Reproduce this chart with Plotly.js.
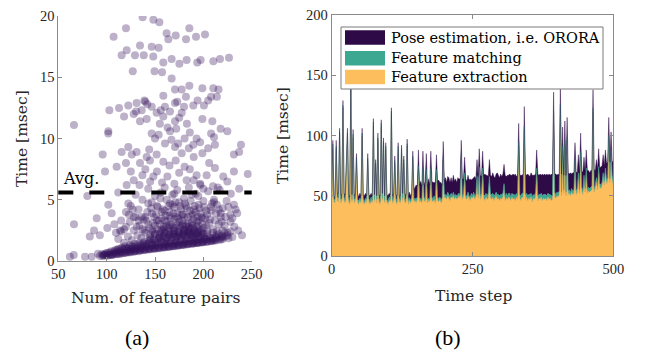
<!DOCTYPE html>
<html><head><meta charset="utf-8">
<script src="https://cdn.plot.ly/plotly-3.0.1.min.js"></script>
<style>html,body{margin:0;padding:0;background:#fff}#chart{width:646px;height:352px}</style>
</head><body><div id="chart"></div>
<script>
// ---------- (a) scatter: [num. of feature pairs, time msec] ----------
const sparsePoints = [[137.2,19.9],[148.3,19.7],[154.5,19.5],[120,19.0],[185.5,19.0],[162,18.6],[171.4,18.4],[201.7,18.5],[163.8,18.1],[182.1,18.1],[192.4,18.3],[107.2,18.3],[120.7,17.2],[134.5,17.6],[146.6,17.5],[153.8,17.4],[115.5,16.8],[129.3,16.8],[138.4,16.8],[148.2,16.7],[167.2,16.5],[182.7,16.4],[197.2,16.4],[210.3,16.3],[217.2,16.5],[226.5,16.6],[158.6,16.2],[175.2,16.1],[193.7,16.2],[127,15.5],[149.5,15.5],[157.3,15.4],[167.2,14.9],[210.3,14.1],[199,14.1],[185.5,14.3],[177.6,14.0],[170.7,14.0],[215.7,14.0],[158.6,13.5],[182,13.4],[208,13.4],[214,13.4],[131,12.9],[139,13.1],[170.7,12.9],[194,13.1],[200.6,12.7],[189.6,12.7],[102.8,12.3],[112.8,12.5],[122.4,12.7],[130.4,12.2],[136.2,12.3],[146.6,12.6],[151.7,12.1],[160.3,12.6],[165.5,12.2],[177.6,12.1],[141.4,11.6],[134.5,11.4],[158.6,11.8],[170.7,11.4],[199,11.6],[209.3,11.4],[217.9,10.8],[224.8,10.6],[101.7,10.6],[146.6,10.4],[153.8,10.3],[165.5,10.6],[180.6,10.0],[193,10.0],[208,10.4],[211,10.1],[160.3,9.6],[170.7,9.3],[189.6,9.5],[196.6,9.7],[212,9.5],[238.9,9.5],[237,8.9],[231.6,8.7],[95.9,8.7],[115.5,8.9],[122.4,9.3],[126,8.7],[131,8.9],[141.4,8.5],[151.7,8.7],[177.6,8.8],[199,8.8],[110.3,7.7],[120,8.0],[134.5,8.0],[144.8,8.2],[158.6,8.1],[171.4,8.2],[180.6,7.7],[206,8.0],[246,7.1],[231.6,7.3],[98.3,7.3],[128,6.6],[137,7.0],[148.3,6.9],[162.8,6.9],[182.7,6.6],[203.4,7.0],[224.8,6.5],[220.6,6.9],[157.3,6.4],[196.6,6.3],[120.7,6.2],[237,5.9],[228.4,5.5],[80,5.3],[194.8,5.3],[155.5,5.1],[122.4,4.7],[101.7,4.6],[146.6,4.8],[165.5,4.7],[211,4.8],[231.6,4.6],[105.2,3.9],[233.4,4.2],[218,3.9],[66.2,3.0],[89.7,3.5],[66.2,11.1],[101.7,10.4],[87,2.5],[82.6,2.0],[93,2.1],[100.7,2.7],[109.6,2.3],[113.8,2.5],[62,0.35],[66,0.5],[77.6,0.35],[84.5,0.35],[91,0.6],[97,0.55],
[142,12.8],[155,11.2],[163,10.9],[172,10.8],[175,11.7],[183,11.2],[186,10.5],[150,10.0],[144,9.1],[167,9.9],[174,9.6],[185,9.2],[190,8.5],[205,9.2],[140,13.0],[128,12.0],[118,11.8],[156,12.3],[180,12.6],[173,13.0],[205,13.1],
[140,7.5],[152,7.3],[165,7.8],[175,7.2],[186,7.5],[193,7.0],[212,7.6],[215,6.0],[200,5.9],[188,5.4],[170,5.5],[143,5.9],[130,5.4],[112,5.6],[125,7.3]];

const midPoints = [[108,3.0],[115,3.3],[120,4.0],[125,4.5],[128,3.6],[133,4.2],[137,5.0],[140,3.6],[143,4.7],[147,3.9],[150,5.3],[152,4.5],[156,5.6],[158,4.2],[162,5.0],[165,4.0],[168,5.4],[170,4.4],[173,5.8],[175,4.8],[178,3.8],[180,5.1],[182,4.5],[185,6.0],[187,4.9],[190,4.2],[192,5.5],[195,4.6],[197,6.2],[200,4.9],[203,4.1],[205,5.7],[208,4.4],[211,5.0],[214,4.6],[217,5.8],[220,4.3],[224,4.9],[228,3.8],[134,6.2],[145,6.5],[160,6.0],[170,6.3],[190,6.6],[210,6.1],
[112,1.8],[115,2.4],[118,1.5],[120,2.8],[122,2.0],[124,3.2],[126,1.7],[128,2.5],[130,3.6],[132,2.1],[134,2.9],[136,1.9],[138,3.4],[140,2.3],[142,4.0],[144,2.7],[146,1.8],[148,3.1],[150,2.2],[151,3.8],[152,2.6],[153,4.4],[154,1.9],[155,3.0],[156,2.4],[157,3.5],[158,2.0],[159,2.8],[160,4.1],[161,2.3],[162,3.2],[163,1.9],[164,2.7],[165,3.7],[166,2.2],[167,3.0],[168,4.6],[169,2.5],[170,3.4],[171,2.0],[172,2.9],[173,3.9],[174,2.4],[175,3.2],[176,2.7],[177,4.2],[178,2.1],[179,3.0],[180,3.6],[181,2.5],[182,2.8],[183,4.3],[184,2.3],[185,3.1],[186,2.6],[187,3.7],[188,2.2],[189,2.9],[190,3.4],[191,2.5],[192,4.0],[193,2.8],[194,2.3],[195,3.3],[196,2.6],[197,3.9],[198,2.4],[199,3.0],[200,2.7],[202,3.5],[204,2.5],[206,3.1],[208,4.1],[210,2.6],[212,3.3],[214,2.4],[216,3.0],[218,3.6],[220,2.5],[222,2.9],[225,2.3],[228,3.2],[232,2.8],[236,2.5],[240,2.1],
[145,2.1],[150,2.9],[155,2.2],[160,2.6],[165,2.4],[170,2.2],[175,2.1],[180,2.3],[185,2.1],[190,2.0],[170,2.7],[175,2.9],[180,2.6],[165,2.9],[160,3.3],[172,3.6],[178,3.3],[183,3.0],[188,2.7],[193,3.2],[198,3.6],[203,2.9],[147,2.5],[152,3.3],[157,2.6],[162,2.9],
[118,2.6],[123,3.8],[127,4.2],[131,2.8],[136,3.6],[139,2.5],[141,3.3],[146,4.3],[149,3.6],[154,3.3],[157,4.0],[161,3.7],[164,4.5],[166,3.5],[169,3.9],[171,4.8],[174,3.5],[176,4.5],[179,3.8],[181,4.7],[184,3.6],[186,4.1],[189,3.8],[191,4.5],[194,3.6],[196,4.3],[199,3.5],[201,4.4],[204,3.8],[207,3.4],[209,4.7],[213,3.9],[216,4.2],[219,3.2],[223,3.6],[226,4.4],[230,3.5],[235,3.9],[133,3.3],[137,2.6],[143,3.0],[148,2.4],[185,2.8],[195,2.9]];

const densePoints = [[96,0.4],[98,0.5],[99,0.6],[101,0.45],[102,0.7],[104,0.55],[105,0.8],[106,0.5],[108,0.65],[109,0.9],[110,0.6],[111,0.75],[112,1.0],[113,0.6],[114,0.8],[115,0.7],[116,1.1],[117,0.65],[118,0.9],[119,1.2],[120,0.7],[121,0.85],[122,1.0],[123,0.75],[124,1.3],[125,0.8],[126,0.95],[127,1.1],[128,0.8],[129,1.4],[130,0.85],[131,1.0],[132,1.2],[133,0.9],[134,1.5],[135,0.9],[136,1.1],[137,1.3],[138,0.95],[139,1.6],[140,0.95],[141,1.15],[142,1.4],[143,1.0],[144,1.7],[145,1.0],[146,1.2],[147,1.5],[148,1.05],[149,1.8],[150,1.05],[151,1.3],[152,1.6],[153,1.1],[154,1.9],[155,1.1],[156,1.35],[157,1.6],[158,1.15],[159,2.0],[160,1.15],[161,1.4],[162,1.7],[163,1.2],[164,2.1],[165,1.2],[166,1.45],[167,1.8],[168,1.25],[169,2.2],[170,1.25],[171,1.5],[172,1.9],[173,1.3],[174,2.3],[175,1.3],[176,1.55],[177,1.9],[178,1.35],[179,2.2],[180,1.35],[181,1.6],[182,2.0],[183,1.4],[184,2.4],[185,1.4],[186,1.65],[187,2.0],[188,1.45],[189,2.3],[190,1.45],[191,1.7],[192,2.1],[193,1.5],[194,2.2],[195,1.5],[196,1.75],[197,2.0],[198,1.55],[199,2.3],[200,1.55],[202,1.8],[204,1.6],[206,2.0],[208,1.65],[210,1.9],[212,1.7],[214,2.1],[216,1.75],[218,1.9],[220,1.8],[223,2.0],[226,1.85],[230,1.95],
[130,0.8],[135,0.85],[140,0.9],[145,0.95],[150,1.0],[155,1.05],[160,1.1],[165,1.15],[170,1.2],[175,1.27],[180,1.32],[185,1.38],[190,1.43],[195,1.48],[200,1.54],[205,1.6],[210,1.65],[100,0.45],[105,0.5],[110,0.56],[115,0.6],[120,0.67],[125,0.72],[93,0.4],[97,0.45],[103,0.5],[107,0.55],[112,0.6],[118,0.65],[123,0.7],[128,0.75],[133,0.8],[138,0.88],[143,0.93],[148,1.0],[153,1.05],[158,1.1],[163,1.15],[168,1.2],[173,1.25],[178,1.3],[183,1.35],[188,1.4],[193,1.46],[198,1.52],[203,1.57],[208,1.62],[213,1.68],[218,1.73],
[95,0.55],[100,0.65],[104,0.7],[108,0.8],[111,0.9],[114,0.95],[117,1.0],[120,1.05],[123,1.1],[126,1.2],[129,1.15],[132,1.35],[135,1.25],[138,1.45],[141,1.35],[144,1.5],[147,1.3],[150,1.6],[153,1.45],[156,1.75],[159,1.5],[162,1.9],[165,1.6],[168,1.95],[171,1.7],[174,2.0],[177,1.75],[180,2.1],[183,1.85],[186,2.2],[189,1.9],[192,2.3],[195,1.95],[198,2.1],[201,1.9],[204,2.2],[207,1.85],[210,2.3],[213,2.0],[216,2.2],[219,2.05],[222,2.3],[225,2.1],[228,2.4],[145,1.9],[150,2.2],[155,2.0],[160,2.3],[165,2.1],[170,2.4],[175,2.3],[180,2.5],[185,2.5],[190,2.6],[195,2.4],[200,2.2],[158,2.5],[168,2.8],[178,2.9],[188,3.1],[163,1.45],[173,1.55],[183,1.65],[193,1.75],[203,1.8],[213,1.85],[140,1.2],[135,1.05],[130,1.0],[125,0.95],[150,1.3],[160,1.35],[170,1.4],[180,1.5],[190,1.6],[200,1.7],[210,1.75],[220,1.95]];

const avgTime = 5.6;

// ---------- (b) stacked time per step (every 2nd time step, 0..500) ----------
const extraction = [
46,90,45,44,89,46,45,101,44,46,
123,46,44,80,100,45,43,138,45,98,
44,46,79,45,43,46,44,100,45,43,
46,44,79,45,43,46,44,108,45,74,
44,96,45,43,107,46,92,44,88,45,
43,46,45,117,44,46,77,45,43,88,
45,44,86,46,77,44,45,91,43,46,
44,46,81,45,46,44,47,73,45,46,
44,71,46,45,70,44,46,45,71,46,
45,47,44,70,46,45,47,44,46,80,
48,49,47,50,48,46,49,48,50,47,
49,47,48,50,48,81,47,49,66,48,
47,50,48,46,49,48,50,47,49,64,
48,70,47,49,69,48,46,49,47,48,
62,48,47,49,46,48,50,47,48,46,
48,47,49,56,46,48,47,49,48,46,
49,47,48,46,49,47,91,48,46,49,
48,105,47,49,46,48,47,49,45,48,
47,49,70,46,48,47,49,46,48,47,
48,46,49,47,48,46,47,117,49,48,
50,49,51,123,50,88,52,93,50,96,
51,52,50,53,51,52,77,51,53,66,
52,84,54,51,64,53,70,52,54,53,
54,55,120,53,56,62,55,71,57,56,
58,66,59,70,60,62,97,61,85,64,
58];
const matching = [
3,3,2,3,2,3,3,2,3,2,
2,3,2,3,2,3,2,3,2,3,
3,2,3,2,3,2,3,2,3,2,
2,3,2,3,2,3,2,3,2,3,
3,2,3,2,3,2,3,2,3,2,
2,3,2,3,2,3,2,3,2,3,
3,2,3,2,3,2,3,2,3,2,
2,3,2,2,2,3,2,2,3,2,
2,2,3,2,2,3,2,2,2,3,
2,3,2,2,3,2,2,3,2,2,
3,2,3,3,2,3,3,2,3,3,
2,3,3,2,3,3,2,3,3,2,
3,3,2,3,3,2,3,3,2,3,
3,4,3,3,4,3,4,3,3,4,
4,3,4,3,4,3,3,4,3,4,
3,4,3,4,3,4,3,3,4,3,
3,4,3,4,3,3,4,3,4,3,
4,3,4,3,4,3,4,3,4,3,
3,4,3,4,3,4,3,4,3,4,
3,4,3,4,3,4,3,3,4,3,
3,3,3,3,3,3,3,3,3,3,
3,3,3,3,3,3,3,3,3,3,
3,3,3,3,3,3,3,3,3,3,
3,3,3,3,3,3,3,3,3,3,
3,3,3,3,3,3,3,3,3,3,
3];
const pose = [
4,3,4,3,5,3,4,3,4,3,
4,3,5,3,4,3,4,3,4,4,
3,4,3,5,3,4,3,4,3,5,
4,3,4,3,5,3,4,3,4,3,
3,4,3,5,3,4,3,4,3,4,
5,3,4,3,4,3,4,3,5,3,
3,4,3,4,3,5,3,4,3,5,
4,3,4,8,10,12,9,13,11,14,
12,14,10,15,13,11,16,12,14,13,
14,11,15,12,13,16,12,14,11,13,
12,14,11,13,15,12,13,11,14,12,
13,11,14,12,13,12,15,12,13,14,
12,14,13,15,11,14,12,16,13,13,
15,15,17,14,14,16,18,15,17,14,
14,16,15,17,16,14,15,18,16,15,
17,15,16,16,18,14,17,15,16,18,
15,17,16,18,14,17,15,16,17,15,
16,16,17,15,18,16,15,17,18,16,
17,15,15,18,16,17,15,18,16,17,
16,18,15,17,16,18,17,16,15,17,
14,16,13,16,15,16,12,16,14,16,
15,13,16,12,15,14,14,16,13,15,
14,15,13,16,15,14,15,16,14,13,
14,13,15,16,12,15,14,15,13,15,
14,15,13,15,14,13,15,14,15,12,
16];
const timeStep = extraction.map((_, i) => i * 2);

const seriesNames = ['Feature extraction', 'Feature matching', 'Pose estimation, i.e. ORORA'];
const seriesColors = ['#fdbf5e', '#3ca892', '#2e0b47'];

// ---------- layout helpers ----------
const W = 646, H = 352;
const axisGrey = '#8a8a8a', txt = '#262626';
const serif = 'DejaVu Serif', tickSerif = 'Liberation Serif';
const px = v => v / W, py = v => 1 - v / H;

const allPts = sparsePoints.concat(midPoints, densePoints);
const traces = [{
  type: 'scatter', mode: 'markers', xaxis: 'x', yaxis: 'y',
  x: allPts.map(p => p[0]), y: allPts.map(p => p[1]),
  marker: {size: 8, color: 'rgba(52,18,92,0.33)', line: {width: 0}},
  hoverinfo: 'skip'
}];
const stacks = [extraction, matching, pose];
const lineColors = ['rgba(200,160,90,0.9)', '#3ca892', 'rgba(46,11,71,0.75)'];
stacks.forEach((vals, k) => {
  traces.push({
    type: 'scatter', mode: 'lines', xaxis: 'x2', yaxis: 'y2',
    x: timeStep, y: vals, stackgroup: 'one', name: seriesNames[k],
    line: {width: 0.6, color: lineColors[k]},
    fillcolor: seriesColors[k], hoverinfo: 'skip'
  });
});

function axisBase(extra) {
  return Object.assign({
    ticks: 'inside', ticklen: 4, tickwidth: 1, tickcolor: axisGrey,
    showline: true, linecolor: axisGrey, linewidth: 1,
    showgrid: false, zeroline: false, fixedrange: true,
    tickfont: {family: tickSerif, size: 14.5, color: txt}
  }, extra);
}

const legendRows = [37.5, 58.3, 77];
const shapes = [
  {type: 'line', xref: 'x domain', yref: 'y', x0: 0, x1: 1, y0: avgTime, y1: avgTime,
   line: {color: '#000', width: 4, dash: '15px,16px'}},
  {type: 'rect', xref: 'paper', yref: 'paper', x0: px(341), x1: px(603), y0: py(89), y1: py(27),
   fillcolor: '#fff', line: {color: '#7a7a7a', width: 1}}
];
const legendOrder = [2, 1, 0];
legendOrder.forEach((k, r) => {
  shapes.push({type: 'rect', xref: 'paper', yref: 'paper', x0: px(345), x1: px(385),
    y0: py(legendRows[r] + 7.2), y1: py(legendRows[r] - 7.2),
    fillcolor: seriesColors[k], line: {width: 0}});
});

function note(text, x, y, font, extra) {
  return Object.assign({text: text, xref: 'paper', yref: 'paper', x: px(x), y: py(y),
    xanchor: 'center', yanchor: 'middle', showarrow: false, font: font}, extra || {});
}
const titleFont = {family: serif, size: 15.5, color: txt};
const annotations = [
  {text: 'Avg.', xref: 'x', yref: 'y', x: 73.5, y: avgTime, yshift: 14, xanchor: 'center', yanchor: 'middle',
   showarrow: false, font: {family: serif, size: 16, color: '#000'}},
  note('Time [msec]', 22, 139, titleFont, {textangle: -90}),
  note('Num. of feature pairs', 155, 298, titleFont),
  note('Time [msec]', 283, 136, titleFont, {textangle: -90}),
  note('Time step', 473, 296, titleFont),
  note('(a)', 137, 337, {family: tickSerif, size: 22, color: '#000'}),
  note('(b)', 448, 337, {family: tickSerif, size: 22, color: '#000'})
];
legendOrder.forEach((k, r) => {
  annotations.push(note(seriesNames[k], 389, legendRows[r], {family: serif, size: 14.5, color: '#000'}, {xanchor: 'left'}));
});

const layout = {
  width: W, height: H, margin: {l: 0, r: 0, t: 0, b: 0},
  paper_bgcolor: '#fff', plot_bgcolor: '#fff', showlegend: false,
  xaxis: axisBase({domain: [px(58.3), px(251.7)], range: [50, 250], tickvals: [50, 100, 150, 200, 250], anchor: 'y'}),
  yaxis: axisBase({domain: [py(261), py(16)], range: [0, 20], tickvals: [0, 5, 10, 15, 20], anchor: 'x'}),
  xaxis2: axisBase({domain: [px(331.7), px(613.3)], range: [0, 500], tickvals: [0, 250, 500], anchor: 'y2', mirror: 'ticks'}),
  yaxis2: axisBase({domain: [py(256), py(15)], range: [0, 200], tickvals: [0, 50, 100, 150, 200], anchor: 'x2', mirror: 'ticks'}),
  shapes: shapes, annotations: annotations
};

Plotly.newPlot('chart', traces, layout, {staticPlot: true, displayModeBar: false});
</script></body></html>
